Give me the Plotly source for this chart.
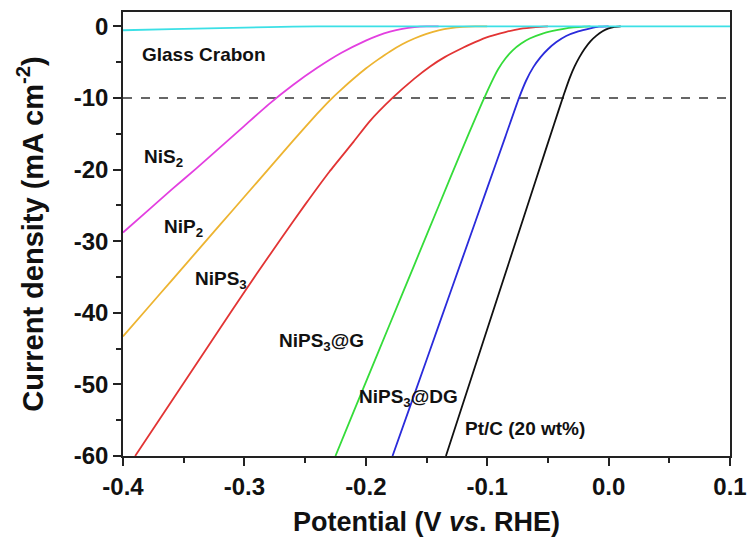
import plotly.graph_objects as go

# Polarization curves (LSV), potential in V vs. RHE, current density in mA cm^-2
gc_x = [-0.40, -0.36, -0.32, -0.28, -0.24, -0.20, -0.10, 0.00, 0.10]
gc_y = [-0.55, -0.40, -0.25, -0.10, 0.00, 0.00, 0.00, 0.00, 0.00]

nis2_x = [-0.40, -0.38, -0.36, -0.34, -0.32, -0.30, -0.28, -0.26, -0.24, -0.22,
          -0.20, -0.19, -0.18, -0.17, -0.16, -0.15, -0.14]
nis2_y = [-28.8, -25.8, -22.8, -19.9, -16.9, -13.9, -10.9, -8.2, -5.8, -3.7,
          -2.0, -1.3, -0.75, -0.35, -0.1, 0.0, 0.0]

nip2_x = [-0.40, -0.38, -0.36, -0.34, -0.32, -0.30, -0.28, -0.26, -0.24, -0.23,
          -0.22, -0.20, -0.19, -0.18, -0.17, -0.16, -0.15, -0.14, -0.13, -0.12,
          -0.11, -0.10]
nip2_y = [-43.3, -39.4, -35.5, -31.6, -27.7, -23.8, -19.9, -16.0, -12.2, -10.4,
          -8.8, -5.9, -4.65, -3.5, -2.5, -1.7, -1.05, -0.55, -0.25, -0.08,
          0.0, 0.0]

nips3_x = [-0.39, -0.37, -0.35, -0.33, -0.31, -0.29, -0.27, -0.25, -0.23, -0.21,
           -0.197, -0.178, -0.16, -0.147, -0.135, -0.12, -0.11, -0.098, -0.085,
           -0.073, -0.06, -0.05]
nips3_y = [-60.0, -54.9, -49.8, -44.7, -39.6, -34.6, -29.7, -24.9, -20.3, -16.1,
           -13.3, -10.0, -7.3, -5.6, -4.3, -3.0, -2.2, -1.4, -0.8,
           -0.35, -0.1, 0.0]

nips3_g_x = [-0.225, -0.21, -0.19, -0.17, -0.15, -0.13, -0.115, -0.104, -0.097,
             -0.091, -0.085, -0.079, -0.072, -0.065, -0.055, -0.046, -0.037,
             -0.029, -0.02, -0.015]
nips3_g_y = [-60.0, -53.8, -45.6, -37.4, -29.2, -21.0, -14.9, -10.6, -8.0,
             -6.0, -4.5, -3.35, -2.4, -1.7, -1.05, -0.65, -0.35,
             -0.15, -0.03, 0.0]

nips3_dg_x = [-0.178, -0.16, -0.14, -0.12, -0.10, -0.085, -0.074, -0.068, -0.062,
              -0.056, -0.05, -0.043, -0.035, -0.025, -0.015, -0.008, 0.0]
nips3_dg_y = [-60.0, -51.4, -41.8, -32.2, -22.6, -15.4, -10.1, -7.6, -5.7,
              -4.3, -3.2, -2.2, -1.35, -0.7, -0.28, -0.05, 0.0]

ptc_x = [-0.134, -0.12, -0.10, -0.08, -0.06, -0.045, -0.037, -0.032, -0.028,
         -0.024, -0.02, -0.015, -0.01, -0.005, 0.0, 0.005, 0.01]
ptc_y = [-60.0, -52.7, -42.3, -31.9, -21.5, -13.7, -9.6, -7.2, -5.6,
         -4.3, -3.2, -2.1, -1.3, -0.7, -0.3, -0.08, 0.0]

# Benchmark current density used to compare overpotentials
REF_CURRENT = -10

x_ticks = [-0.4, -0.3, -0.2, -0.1, 0.0, 0.1]
x_tick_labels = ["-0.4", "-0.3", "-0.2", "-0.1", "0.0", "0.1"]
y_ticks = [0, -10, -20, -30, -40, -50, -60]
y_tick_labels = ["0", "-10", "-20", "-30", "-40", "-50", "-60"]

# Curve labels: text, anchor potential, anchor current density
label_text = ["Glass Crabon", "NiS<sub>2</sub>", "NiP<sub>2</sub>", "NiPS<sub>3</sub>",
              "NiPS<sub>3</sub>@G", "NiPS<sub>3</sub>@DG", "Pt/C (20 wt%)"]
label_x = [-0.386, -0.384, -0.368, -0.342, -0.273, -0.207, -0.120]
label_y = [-4.0, -18.4, -28.2, -35.4, -44.1, -51.9, -56.1]

series = [
    (nis2_x, nis2_y, "#E33FE0"),
    (nip2_x, nip2_y, "#EDB431"),
    (nips3_x, nips3_y, "#E23434"),
    (nips3_g_x, nips3_g_y, "#35DC3A"),
    (nips3_dg_x, nips3_dg_y, "#2A2BDB"),
    (ptc_x, ptc_y, "#111111"),
    (gc_x, gc_y, "#3CE0E6"),
]

FONT = "Liberation Sans, Arial, sans-serif"

fig = go.Figure()
for xs, ys, col in series:
    fig.add_trace(go.Scatter(x=xs, y=ys, mode="lines",
                             line=dict(color=col, width=1.8, shape="spline",
                                       smoothing=0.5),
                             showlegend=False, hoverinfo="skip"))

fig.add_shape(type="line", xref="paper", yref="y", x0=0, x1=1,
              y0=REF_CURRENT, y1=REF_CURRENT,
              line=dict(color="#666666", width=2, dash="dash"), layer="below")

for t, lx, ly in zip(label_text, label_x, label_y):
    fig.add_annotation(x=lx, y=ly, text=t, showarrow=False, xanchor="left",
                       yanchor="middle",
                       font=dict(family=FONT, size=19, color="#111111", weight="bold"))

axis_common = dict(
    showgrid=False, zeroline=False, showline=True, linecolor="#222222",
    linewidth=1.6, mirror=True, ticks="outside", ticklen=8, tickwidth=1.6,
    tickcolor="#222222", automargin=False,
    tickfont=dict(family=FONT, size=24, color="#111111", weight="bold"),
)

fig.update_xaxes(
    range=[-0.4, 0.1], tickmode="array", tickvals=x_ticks, ticktext=x_tick_labels,
    minor=dict(dtick=0.05, ticks="outside", ticklen=5, tickwidth=1.6,
               tickcolor="#222222"),
    title=dict(text="Potential (V <i>vs</i>. RHE)", standoff=14,
               font=dict(family=FONT, size=27, color="#111111", weight="bold")),
    **axis_common,
)
fig.update_yaxes(
    range=[-60, 2], tickmode="array", tickvals=y_ticks, ticktext=y_tick_labels,
    minor=dict(dtick=5, tick0=0, ticks="outside", ticklen=5, tickwidth=1.6,
               tickcolor="#222222"),
    title=dict(text="Current density (mA cm<sup>-2</sup>)", standoff=22,
               font=dict(family=FONT, size=29, color="#111111", weight="bold")),
    **axis_common,
)

fig.update_layout(
    width=748, height=545,
    margin=dict(l=123, r=18, t=12, b=89, autoexpand=False),
    plot_bgcolor="white", paper_bgcolor="white",
)

fig.write_html("out.html")
